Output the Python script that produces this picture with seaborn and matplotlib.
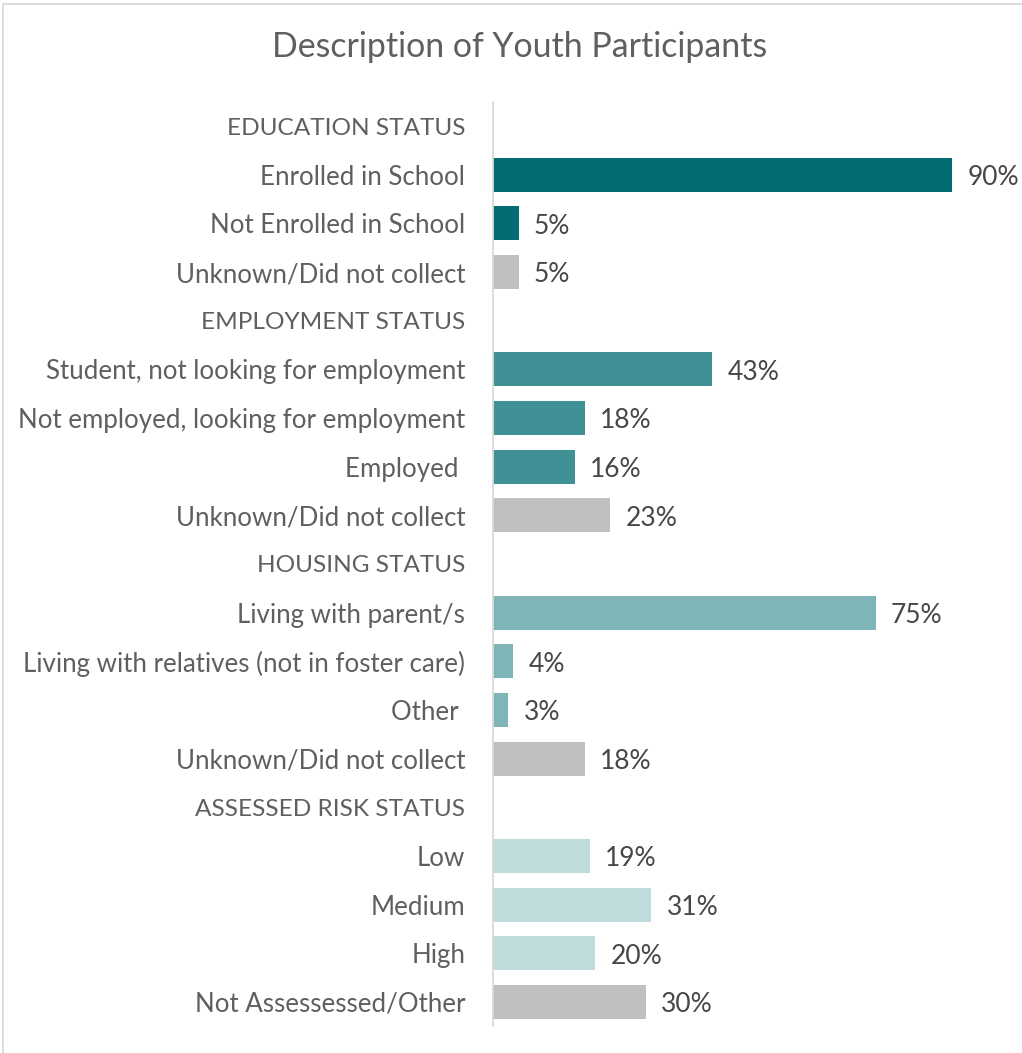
import matplotlib
matplotlib.use("Agg")
import matplotlib.pyplot as plt
import matplotlib.patches as mpatches
import numpy as np
import pandas as pd
import seaborn as sns

# Row labels, top to bottom (section headers carry no bar)
labels = [
    "EDUCATION STATUS",
    "Enrolled in School",
    "Not Enrolled in School",
    "Unknown/Did not collect",
    "EMPLOYMENT STATUS",
    "Student, not looking for employment",
    "Not employed, looking for employment",
    "Employed ",
    "Unknown/Did not collect",
    "HOUSING STATUS",
    "Living with parent/s",
    "Living with relatives (not in foster care)",
    "Other ",
    "Unknown/Did not collect",
    "ASSESSED RISK STATUS",
    "Low",
    "Medium",
    "High",
    "Not Assessessed/Other",
]
values = [None, 90, 5, 5,
          None, 43, 18, 16, 23,
          None, 75, 4, 3, 18,
          None, 19, 31, 20, 30]
groups = ["header", "education", "education", "unknown",
          "header", "employment", "employment", "employment", "unknown",
          "header", "housing", "housing", "housing", "unknown",
          "header", "risk", "risk", "risk", "unknown"]

palette = {
    "education": "#016C74",
    "employment": "#3F9195",
    "housing": "#80B5B8",
    "risk": "#BFDBDC",
    "unknown": "#BFBFBF",
}

row_ids = [f"r{i:02d}" for i in range(len(labels))]
df = pd.DataFrame({"row": row_ids, "label": labels, "value": values, "group": groups})
bars = df[df["group"] != "header"].copy()
bars["value"] = bars["value"].astype(float)

sns.set_theme(style="white")
plt.rcParams["font.family"] = ["Lato", "DejaVu Sans"]

text_color = "#5F5F5F"
W, H = 1022, 1053
fig = plt.figure(figsize=(W / 100, H / 100), dpi=100)

ax = fig.add_axes([493 / W, 1 - 1026.3 / H, (1003 - 493) / W, (1026.3 - 101.7) / H])
sns.barplot(data=bars, x="value", y="row", order=row_ids, hue="group",
            palette=palette, dodge=False, legend=False, width=0.70,
            linewidth=0, saturation=1, ax=ax)

for cont in ax.containers:
    for t in ax.bar_label(cont, fmt="%.0f%%", padding=11, fontsize=19,
                          color="#474747"):
        t.set_va("center")
        t.set_y(-2)

ax.set_xlim(0, 100)
ax.set_ylim(len(labels) - 0.5, -0.5)
ax.set_xlabel("")
ax.set_ylabel("")
ax.set_xticks([])
ax.set_yticks(range(len(labels)))
ax.set_yticklabels(labels, fontsize=18.6, color=text_color)
for tick, grp in zip(ax.get_yticklabels(), groups):
    if grp == "header":
        tick.set_fontsize(17.6)
ax.tick_params(axis="y", length=0, pad=20)
for side in ["top", "right", "bottom"]:
    ax.spines[side].set_visible(False)
ax.spines["left"].set_color("#D9D9D9")
ax.spines["left"].set_linewidth(1.3)

fig.text(520 / W, 1 - 47 / H, "Description of Youth Participants",
         ha="center", va="center", fontsize=24.4, color=text_color)

# Chart-area outline
fig.patches.append(mpatches.Rectangle((3 / W, -0.1), 1.2, 1 - 4 / H + 0.1,
                                      transform=fig.transFigure, fill=False,
                                      edgecolor="#D9D9D9", linewidth=1.3))

fig.savefig("out.png", dpi=100, facecolor="white")
